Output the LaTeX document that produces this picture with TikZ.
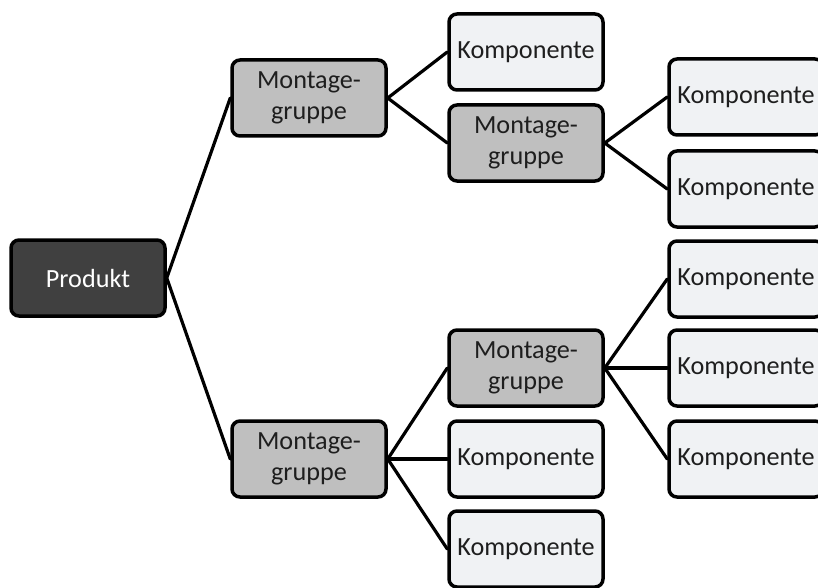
\documentclass[tikz,border=0pt]{standalone}
\usepackage{fontspec}
\setmainfont{Carlito}
\definecolor{partfill}{RGB}{240,242,244}
\definecolor{groupfill}{RGB}{191,191,191}
\definecolor{rootfill}{RGB}{64,64,64}
\definecolor{ink}{RGB}{30,30,30}
\begin{document}
\begin{tikzpicture}[x=1pt,y=-1pt,
  box/.style={draw=black, line width=3.5pt, rounded corners=8pt,
    minimum width=154pt, minimum height=76pt, align=center,
    inner sep=0pt, font=\fontsize{26.2}{30.5}\selectfont},
  prod/.style={box, fill=rootfill, text=white},
  group/.style={box, fill=groupfill, text=ink},
  part/.style={box, fill=partfill, text=ink},
  link/.style={line width=3.2pt, line cap=round}]
\path[use as bounding box, clip] (0,0) rectangle (818,588);
\fill[white] (0,0) rectangle (818,588);

% product root
\node[prod] (p) at (88,278) {Produkt};

% first level
\node[group] (g1) at (309,98) {Montage-\\gruppe};
\node[group] (g4) at (309,459) {Montage-\\gruppe};

% second level
\node[part]  (k1) at (526,52) {Komponente};
\node[group] (g2) at (526,143) {Montage-\\gruppe};
\node[group] (g3) at (526,368) {Montage-\\gruppe};
\node[part]  (k6) at (526,459) {Komponente};
\node[part]  (k7) at (526,549) {Komponente};

% third level
\node[part] (r1) at (746,97) {Komponente};
\node[part] (r2) at (746,189) {Komponente};
\node[part] (r3) at (746,279) {Komponente};
\node[part] (r4) at (746,368) {Komponente};
\node[part] (r5) at (746,459) {Komponente};

% connectors
\draw[link] (g1.west) -- (p.east) -- (g4.west);
\draw[link] (k1.west) -- (g1.east) -- (g2.west);
\draw[link] (r1.west) -- (g2.east) -- (r2.west);
\draw[link] (g3.west) -- (g4.east) -- (k7.west);
\draw[link] (g4.east) -- (k6.west);
\draw[link] (r3.west) -- (g3.east) -- (r5.west);
\draw[link] (g3.east) -- (r4.west);
\end{tikzpicture}
\end{document}
